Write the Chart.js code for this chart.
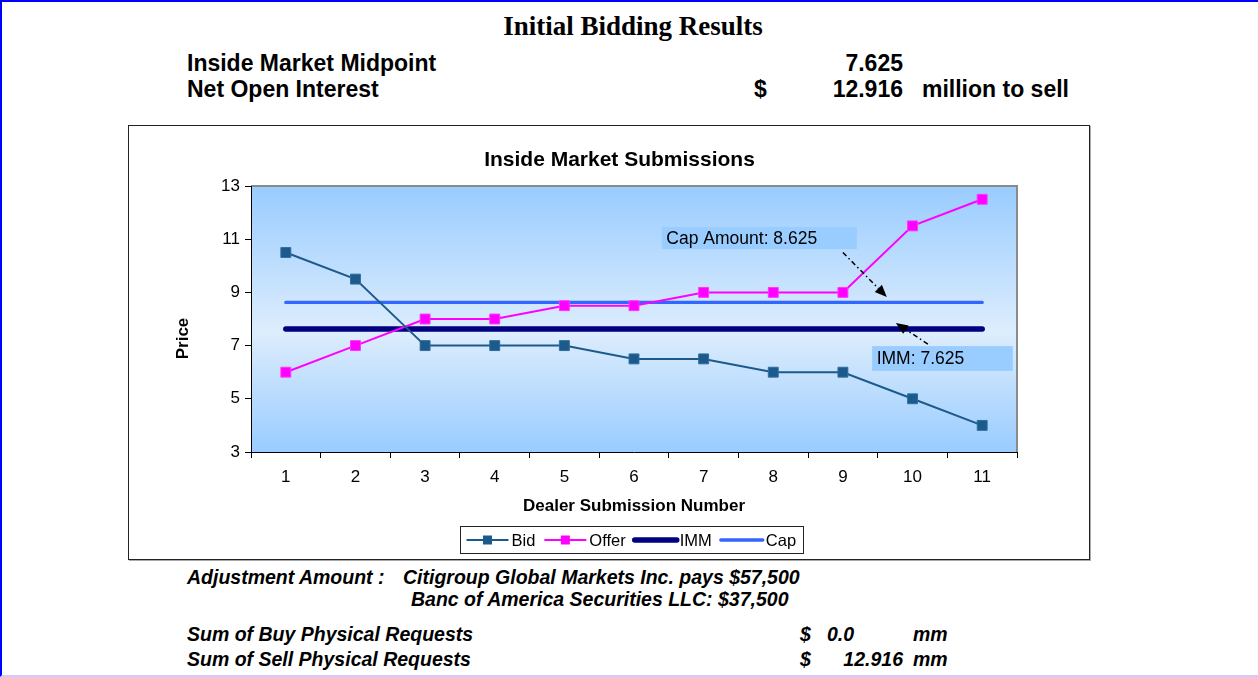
<!DOCTYPE html>
<html>
<head>
<meta charset="utf-8">
<script src="https://cdn.jsdelivr.net/npm/chart.js@4.4.1/dist/chart.umd.min.js"></script>
<style>
html,body{margin:0;padding:0;background:#fff;}
body{width:1258px;height:677px;position:relative;overflow:hidden;font-family:"Liberation Sans",Arial,sans-serif;}
.frame{position:absolute;left:0;top:0;width:1258px;height:677px;box-sizing:border-box;border-top:2px solid #0000ff;border-left:2px solid #0000ff;border-bottom:2px solid #ccccff;}
.t{position:absolute;white-space:nowrap;line-height:1;color:#000;}
.hd{font-weight:bold;font-size:23px;}
.ft{font-weight:bold;font-style:italic;font-size:19.5px;}
.r{text-align:right;}
#box{position:absolute;left:128px;top:125px;width:962px;height:435px;box-sizing:border-box;border:1px solid #222;box-shadow:1px 1px 0 #aaa;}
#cv{position:absolute;left:129px;top:126px;}
</style>
</head>
<body>
<div class="frame"></div>
<div class="t" style="left:0;width:1266px;text-align:center;top:13px;font-family:'Liberation Serif','Times New Roman',serif;font-weight:bold;font-size:27px;">Initial Bidding Results</div>

<div class="t hd" style="left:187px;top:51.5px;">Inside Market Midpoint</div>
<div class="t hd r" style="left:703px;width:200px;top:51.5px;">7.625</div>
<div class="t hd" style="left:187px;top:78px;">Net Open Interest</div>
<div class="t hd" style="left:754px;top:78px;">$</div>
<div class="t hd r" style="left:703px;width:200px;top:78px;">12.916</div>
<div class="t hd" style="left:922px;top:78px;">million to sell</div>

<div id="box"></div>
<canvas id="cv" width="960" height="433"></canvas>

<div class="t ft" style="left:187px;top:567.5px;">Adjustment Amount :</div>
<div class="t ft" style="left:403px;top:567.5px;">Citigroup Global Markets Inc. pays $57,500</div>
<div class="t ft" style="left:411px;top:589.5px;">Banc of America Securities LLC: $37,500</div>
<div class="t ft" style="left:187px;top:625px;">Sum of Buy Physical Requests</div>
<div class="t ft" style="left:800px;top:625px;">$</div>
<div class="t ft" style="left:827px;top:625px;">0.0</div>
<div class="t ft" style="left:913px;top:625px;">mm</div>
<div class="t ft" style="left:187px;top:649.5px;">Sum of Sell Physical Requests</div>
<div class="t ft" style="left:800px;top:649.5px;">$</div>
<div class="t ft r" style="left:703px;width:200px;top:649.5px;">12.916</div>
<div class="t ft" style="left:913px;top:649.5px;">mm</div>

<script>
// ---- data ----
const submissionNumbers = ['1','2','3','4','5','6','7','8','9','10','11'];
const bidPrices   = [10.5, 9.5, 7, 7, 7, 6.5, 6.5, 6, 6, 5, 4];
const offerPrices = [6, 7, 8, 8, 8.5, 8.5, 9, 9, 9, 11.5, 12.5];
const immLevel    = [7.625, 7.625, 7.625, 7.625, 7.625, 7.625, 7.625, 7.625, 7.625, 7.625, 7.625];
const capLevel    = [8.625, 8.625, 8.625, 8.625, 8.625, 8.625, 8.625, 8.625, 8.625, 8.625, 8.625];
const priceTicks  = [3, 5, 7, 9, 11, 13];

// ---- annotation layout (in data coordinates) ----
const notes = [
  { text: 'Cap Amount: 8.625', x0: 5.40, y0: 11.46, x1: 8.20, y1: 10.63, from: [8.0, 10.50], to: [8.63, 8.83] },
  { text: 'IMM: 7.625',        x0: 8.42, y0: 6.98,  x1: 10.44, y1: 6.05, from: [9.22, 7.06], to: [8.76, 7.85] }
];

const FONT = '"Liberation Sans", Arial, sans-serif';

const plotBg = {
  id: 'plotBg',
  beforeDraw(chart) {
    const {ctx, chartArea: a} = chart;
    const g = ctx.createLinearGradient(0, a.top, 0, a.bottom);
    g.addColorStop(0, '#99CCFF');
    g.addColorStop(0.55, '#DDEDFD');
    g.addColorStop(1, '#99CCFF');
    ctx.save();
    ctx.fillStyle = g;
    ctx.fillRect(a.left, a.top, a.right - a.left, a.bottom - a.top);
    ctx.strokeStyle = '#8a8a8a';
    ctx.lineWidth = 2;
    ctx.beginPath();
    ctx.moveTo(a.left, a.top);
    ctx.lineTo(a.right, a.top);
    ctx.lineTo(a.right, a.bottom);
    ctx.stroke();
    ctx.restore();
  }
};

function arrow(ctx, x0, y0, x1, y1) {
  const ang = Math.atan2(y1 - y0, x1 - x0);
  const L = 12, W = 5;
  const bx = x1 - L * Math.cos(ang), by = y1 - L * Math.sin(ang);
  ctx.save();
  ctx.strokeStyle = '#000';
  ctx.lineWidth = 1.5;
  ctx.setLineDash([5, 3, 1.5, 3]);
  ctx.beginPath();
  ctx.moveTo(x0, y0);
  ctx.lineTo(bx, by);
  ctx.stroke();
  ctx.setLineDash([]);
  ctx.fillStyle = '#000';
  ctx.beginPath();
  ctx.moveTo(x1, y1);
  ctx.lineTo(bx + W * Math.sin(ang), by - W * Math.cos(ang));
  ctx.lineTo(bx - W * Math.sin(ang), by + W * Math.cos(ang));
  ctx.closePath();
  ctx.fill();
  ctx.restore();
}

const notesPlugin = {
  id: 'notes',
  afterDatasetsDraw(chart) {
    const {ctx, scales: {x, y}} = chart;
    ctx.save();
    notes.forEach(n => {
      const l = x.getPixelForValue(n.x0), r = x.getPixelForValue(n.x1);
      const t = y.getPixelForValue(n.y0), b = y.getPixelForValue(n.y1);
      ctx.fillStyle = '#99CCFF';
      ctx.fillRect(l, t, r - l, b - t);
      ctx.fillStyle = '#000';
      ctx.font = '17.5px ' + FONT;
      ctx.textBaseline = 'middle';
      ctx.textAlign = 'left';
      ctx.fillText(n.text, l + 4.5, (t + b) / 2 + 1);
      arrow(ctx, x.getPixelForValue(n.from[0]), y.getPixelForValue(n.from[1]),
                 x.getPixelForValue(n.to[0]), y.getPixelForValue(n.to[1]));
    });
    ctx.restore();
  }
};

const decor = {
  id: 'decor',
  afterDraw(chart) {
    const {ctx, chartArea: a} = chart;
    ctx.save();
    // chart title
    ctx.fillStyle = '#000';
    ctx.font = 'bold 21px ' + FONT;
    ctx.textAlign = 'center';
    ctx.textBaseline = 'alphabetic';
    ctx.fillText('Inside Market Submissions', 490.5, 39.7);
    // y axis title
    ctx.save();
    ctx.translate(59, 212.5);
    ctx.rotate(-Math.PI / 2);
    ctx.font = 'bold 17px ' + FONT;
    ctx.textAlign = 'center';
    ctx.fillText('Price', 0, 0);
    ctx.restore();
    // legend
    const items = chart.data.datasets;
    ctx.font = '16.5px ' + FONT;
    const pad = 6, lineLen = 42, gapT = 4, gapI = 8;
    let total = pad * 2;
    items.forEach((d, i) => {
      total += lineLen + gapT + ctx.measureText(d.label).width + (i < items.length - 1 ? gapI : 0);
    });
    const cx = (a.left + a.right) / 2 - 2.5;
    const top = 400, h = 27;
    let xx = Math.round(cx - total / 2) + 0.5;
    ctx.strokeStyle = '#222';
    ctx.lineWidth = 1;
    ctx.strokeRect(xx, top + 0.5, Math.round(total), h);
    let px = xx + pad;
    const my = top + h / 2 + 0.5;
    items.forEach((d, i) => {
      ctx.strokeStyle = d.borderColor;
      ctx.lineWidth = d.borderWidth;
      ctx.lineCap = d.legendCap || 'butt';
      ctx.beginPath();
      ctx.moveTo(px, my);
      ctx.lineTo(px + lineLen, my);
      ctx.stroke();
      if (d.pointRadius > 0) {
        const s = 9;
        ctx.fillStyle = d.pointBackgroundColor;
        ctx.fillRect(px + lineLen / 2 - s / 2, my - s / 2, s, s);
      }
      ctx.lineCap = 'butt';
      px += lineLen + gapT;
      ctx.fillStyle = '#000';
      ctx.textAlign = 'left';
      ctx.textBaseline = 'middle';
      ctx.fillText(d.label, px - 1, my + 1);
      px += ctx.measureText(d.label).width + gapI;
    });
    ctx.restore();
  }
};

const tickFont = { family: FONT, size: 17 };

new Chart(document.getElementById('cv'), {
  type: 'line',
  data: {
    labels: submissionNumbers,
    datasets: [
      { label: 'Bid', data: bidPrices, borderColor: '#1D5A8C', backgroundColor: '#1D5A8C',
        pointBackgroundColor: '#1D5A8C', pointBorderColor: '#2F6E9E', pointBorderWidth: 1,
        pointStyle: 'rect', pointRadius: 7, borderWidth: 2, tension: 0 },
      { label: 'Offer', data: offerPrices, borderColor: '#FF00FF', backgroundColor: '#FF00FF',
        pointBackgroundColor: '#FF00FF', pointBorderColor: '#FF33FF', pointBorderWidth: 1,
        pointStyle: 'rect', pointRadius: 7, borderWidth: 2, tension: 0 },
      { label: 'IMM', data: immLevel, borderColor: '#000080', backgroundColor: '#000080',
        pointRadius: 0, borderWidth: 5.5, borderCapStyle: 'round', legendCap: 'round' },
      { label: 'Cap', data: capLevel, borderColor: '#3366FF', backgroundColor: '#3366FF',
        pointRadius: 0, borderWidth: 3.3, borderCapStyle: 'round', legendCap: 'round' }
    ]
  },
  options: {
    responsive: false,
    animation: false,
    devicePixelRatio: 1,
    layout: { padding: { left: 0, top: 60, right: 72, bottom: 0 } },
    plugins: { legend: { display: false }, title: { display: false }, tooltip: { enabled: false } },
    scales: {
      x: {
        type: 'category',
        offset: true,
        afterFit(s) { s.height = 107; },
        grid: { display: true, drawOnChartArea: false, drawTicks: true, tickLength: 6, color: '#000', offset: true },
        border: { display: true, color: '#000', width: 1 },
        ticks: { color: '#000', font: tickFont, padding: 9, maxRotation: 0 },
        title: { display: true, text: 'Dealer Submission Number', color: '#000',
                 font: { family: FONT, size: 17, weight: 'bold' }, padding: { top: 0, bottom: 42.5 } }
      },
      y: {
        min: 3, max: 13,
        afterFit(s) { s.width = 122; },
        afterBuildTicks(s) { s.ticks = priceTicks.map(v => ({ value: v })); },
        grid: { display: true, drawOnChartArea: false, drawTicks: true, tickLength: 6, color: '#000' },
        border: { display: true, color: '#000', width: 1 },
        ticks: { color: '#000', font: tickFont, padding: 5 }
      }
    }
  },
  plugins: [plotBg, notesPlugin, decor]
});
</script>
</body>
</html>
